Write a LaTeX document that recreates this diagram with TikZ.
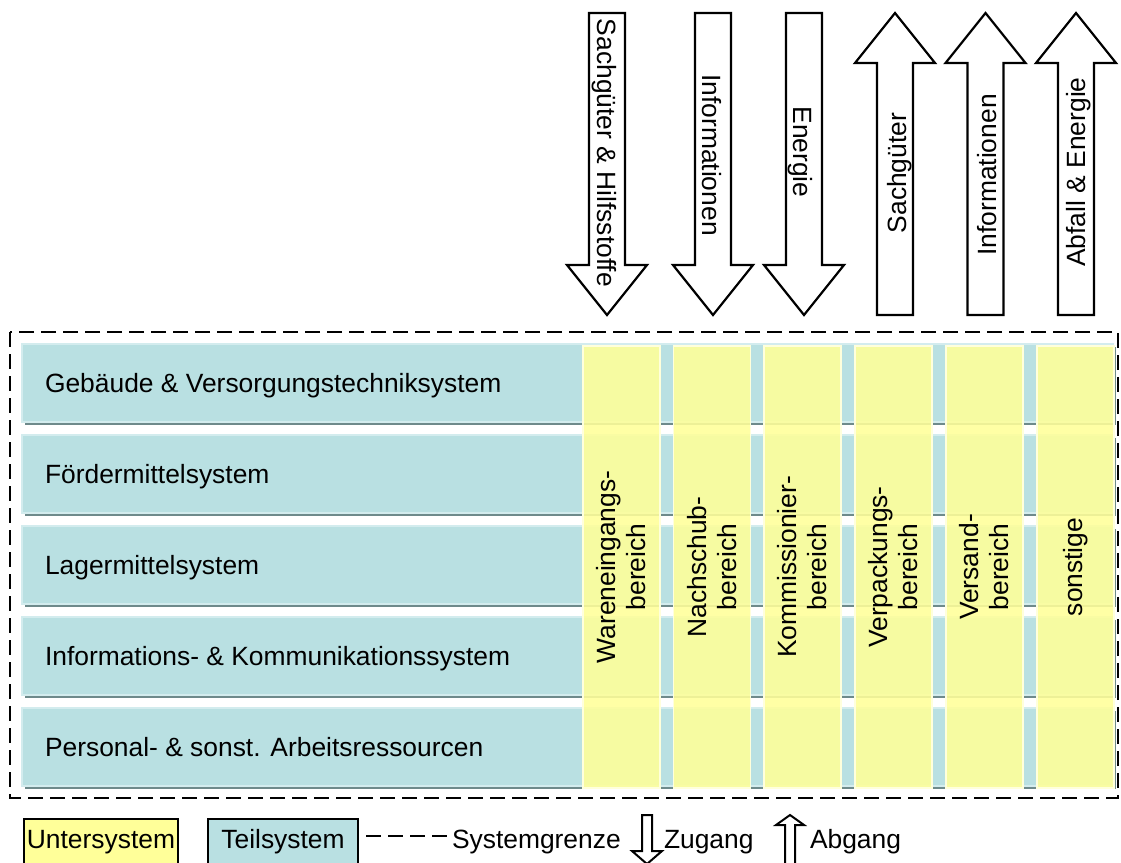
\documentclass[tikz,border=0pt]{standalone}
\usepackage{fontspec}
\setmainfont{Liberation Sans}
\definecolor{tealfill}{HTML}{B9E0E2}
\definecolor{tealshadow}{HTML}{6E8A8B}
\definecolor{tealedge}{HTML}{D3ECEE}
\definecolor{yelfill}{HTML}{FFFF99}
\definecolor{yeledge}{HTML}{FFFFDC}
\begin{document}
\begin{tikzpicture}[x=1pt,y=-1pt,
  every node/.style={inner sep=0pt, outer sep=0pt, font=\fontsize{26.4}{30}\selectfont},
  rowbox/.style={fill=tealfill, draw=tealedge, line width=1.2pt, minimum width=1091pt, minimum height=78pt, anchor=north west},
  rowshadow/.style={fill=tealshadow},
  colbox/.style={fill=yelfill, fill opacity=0.88, draw=yeledge, line width=1.2pt, minimum width=77pt, minimum height=442pt, anchor=north west},
  bound/.style={draw=black, line width=2pt, dash pattern=on 15pt off 7pt},
  arrowline/.style={draw=black, fill=white, line width=2.2pt, line join=miter},
  legbox/.style={draw=black, line width=1.5pt, minimum height=70pt, anchor=north west},
  dnarrow/.pic={\path[arrowline] (-18,0) -- (-18,252) -- (-40,252) -- (0,302) -- (40,252) -- (18,252) -- (18,0) -- cycle;},
  uparrow/.pic={\path[arrowline] (0,0) -- (40,50) -- (18,50) -- (18,302) -- (-18,302) -- (-18,50) -- (-40,50) -- cycle;}
]
\useasboundingbox (0,0) rectangle (1121,862);
\clip (0,0) rectangle (1121,862);

% system boundary
\draw[bound] (10,332) rectangle (1118,798);

% rows (Teilsysteme)
\foreach \i/\t in {0/{Gebäude \& Versorgungstechniksystem},1/{Fördermittelsystem},2/{Lagermittelsystem},3/{Informations- \& Kommunikationssystem},4/{Personal- \& sonst. Arbeitsressourcen}}{
  \pgfmathsetmacro\yy{344+91*\i}
  \fill[rowshadow] (25,\yy+3) rectangle (1116,\yy+81);
  \node[rowbox] (row\i) at (22,\yy) {};
  \node[anchor=base west] (rowlab\i) at (45,\yy+48.5) {\t};
}

% columns (Untersysteme)
\foreach \i/\x/\t in {1/583/{Wareneingangs-\\bereich},2/673.5/{Nachschub-\\bereich},3/764/{Kommissionier-\\bereich},4/855/{Verpackungs-\\bereich},5/946/{Versand-\\bereich},6/1037/{sonstige}}{
  \node[colbox] (col\i) at (\x,346) {};
  \node[rotate=90, align=center] (collab\i) at (col\i.center) {\t};
}

% flow arrows
\pic at (607,13) {dnarrow};
\pic at (713,13) {dnarrow};
\pic at (804,13) {dnarrow};
\pic at (895,13) {uparrow};
\pic at (985.5,13) {uparrow};
\pic at (1076,13) {uparrow};
\node[rotate=-90] (in1) at (604,153) {Sachgüter \& Hilfsstoffe};
\node[rotate=-90] (in2) at (712,155) {Informationen};
\node[rotate=-90] (in3) at (800,152) {Energie};
\node[rotate=90] (out1) at (900,173) {Sachgüter};
\node[rotate=90] (out2) at (987,175) {Informationen};
\node[rotate=90] (out3) at (1079,172) {Abfall \& Energie};

% legend
\node[legbox, fill=yelfill, minimum width=154pt] (leg1) at (24,819) {};
\node[anchor=base] (legt1) at (101,848) {Untersystem};
\node[legbox, fill=tealfill, minimum width=150pt] (leg2) at (208,819) {};
\node[anchor=base] (legt2) at (283,848) {Teilsystem};
\node[anchor=base west] (legt3) at (452,848) {Systemgrenze};
\coordinate (dl) at (366,836);
\draw[line width=1.5pt, dash pattern=on 15pt off 7pt] (dl) -- (dl -| legt3.west);
\path[draw=black, fill=white, line width=2pt] (642,815) -- (642,851) -- (632,851) -- (647,864) -- (662,851) -- (652,851) -- (652,815) -- cycle;
\node[anchor=base west] (legt4) at (664,848) {Zugang};
\path[draw=black, fill=white, line width=2pt] (790,815) -- (804,825) -- (795,825) -- (795,880) -- (785,880) -- (785,825) -- (776,825) -- cycle;
\node[anchor=base west] (legt5) at (810,848) {Abgang};
\end{tikzpicture}
\end{document}
